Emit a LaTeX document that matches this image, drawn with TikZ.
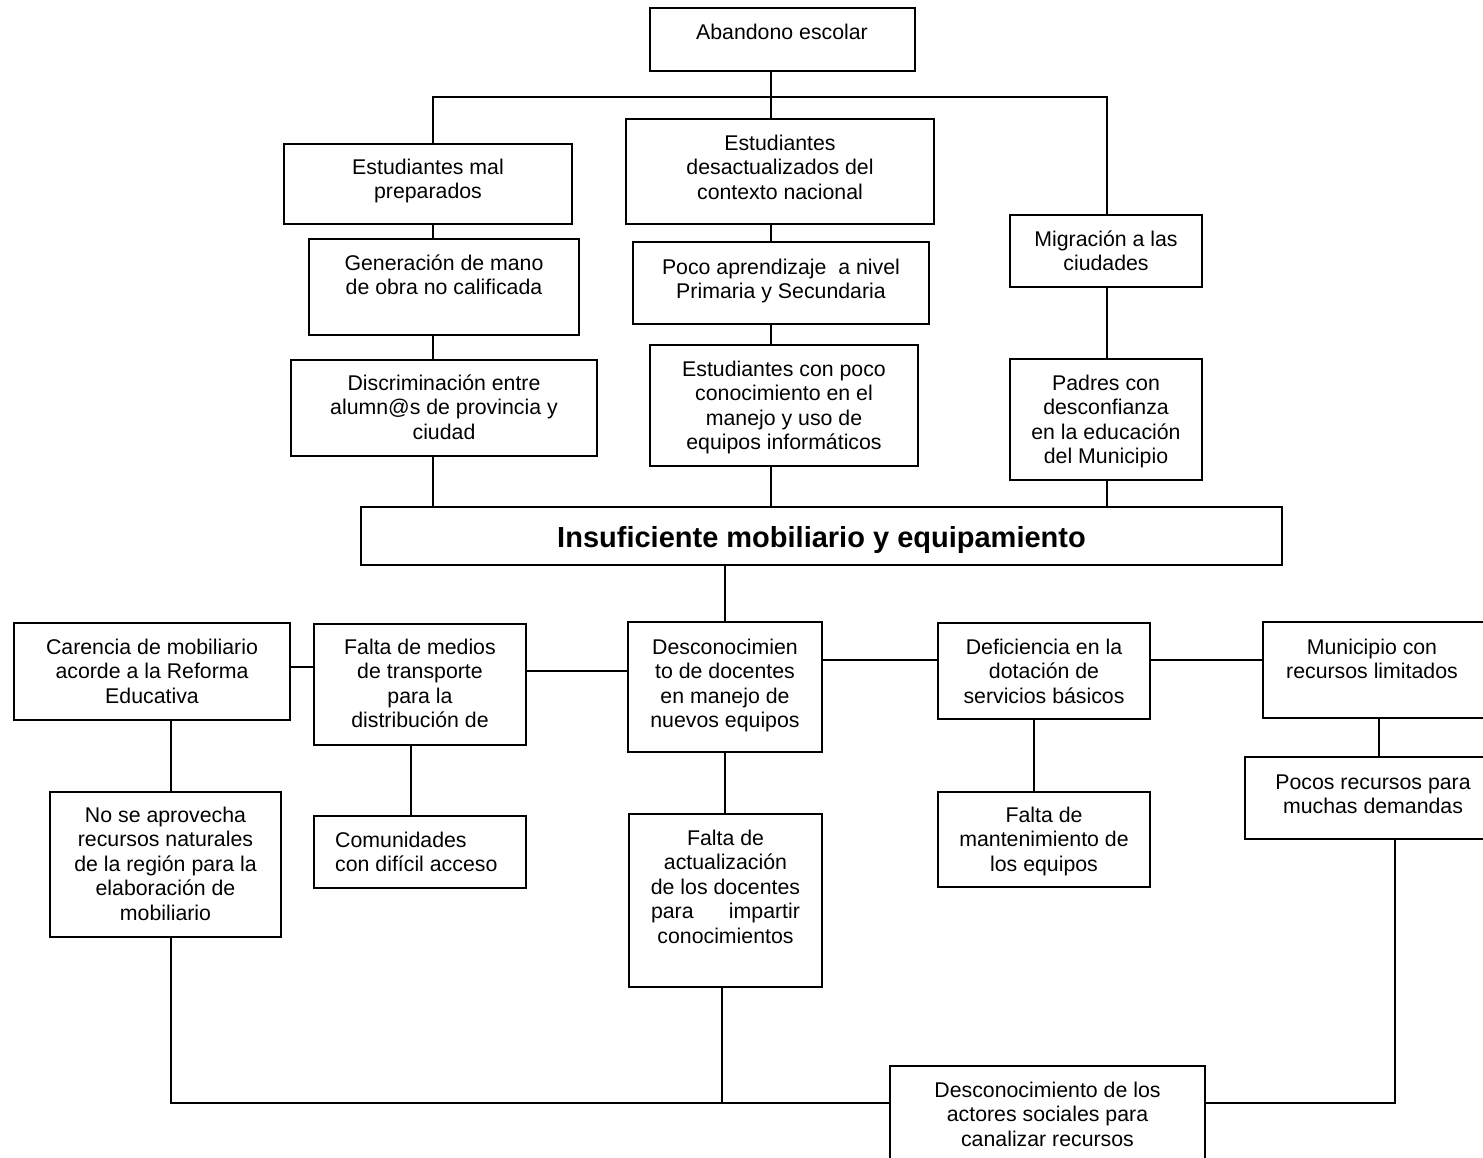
\documentclass[tikz,border=0pt]{standalone}
\usepackage{fontspec}
\setmainfont{Liberation Sans}
\newcommand\mkbox[8]{%
  \node[bxs, minimum width=#4pt-#2pt, minimum height=#5pt-#3pt] (#1) at ({(#2+#4)/2},{(#3+#5)/2}) {};
  \node[txt, anchor=north] (#1-t) at (#6,{#7-10}) {\strut #8};
}
\begin{document}
\begin{tikzpicture}[x=1pt,y=-1pt,
  bxs/.style={draw, line width=1.6pt, inner sep=0pt, outer sep=0pt, rectangle},
  txt/.style={inner sep=0pt, align=center, font=\fontsize{21.3}{24.5}\selectfont},
  conn/.style={line width=1.6pt},
  thinconn/.style={line width=1.1pt}]
\fill[white] (0,0) rectangle (1483,1158);
\useasboundingbox (0,0) rectangle (1483,1158);

% top half
\mkbox{ab}{650}{8}{915}{71}{782}{32}{Abandono escolar}
\mkbox{emp}{284}{144}{572}{224}{428}{167}{Estudiantes mal\\preparados}
\mkbox{des}{626}{119}{934}{224}{780}{143}{Estudiantes\\desactualizados del\\contexto nacional}
\mkbox{mig}{1010}{215}{1202}{287}{1106}{239}{Migración a las\\ciudades}
\mkbox{gen}{309}{239}{579}{335}{444}{263}{Generación de mano\\de obra no calificada}
\mkbox{poc}{633}{242}{929}{324}{781}{267}{Poco aprendizaje\ \ a nivel\\Primaria y Secundaria}
\mkbox{dis}{291}{360}{597}{456}{444}{383}{Discriminación entre\\alumn@s de provincia y\\ciudad}
\mkbox{ecp}{650}{345}{918}{466}{784}{369}{Estudiantes con poco\\conocimiento en el\\manejo y uso de\\equipos informáticos}
\mkbox{pad}{1010}{359}{1202}{480}{1106}{383}{Padres con\\desconfianza\\en la educación\\del Municipio}

% central problem
\node[bxs, minimum width=921pt, minimum height=58pt] (ins) at (821.5,536) {};
\node[inner sep=0pt, anchor=north, font=\fontsize{29}{33}\selectfont\bfseries] (ins-t) at (821.5,{537-12.7}) {\strut Insuficiente mobiliario y equipamiento};

% lower half
\mkbox{car}{14}{623}{290}{720}{152}{647}{Carencia de mobiliario\\acorde a la Reforma\\Educativa}
\mkbox{fmt}{314}{624}{526}{745}{420}{647}{Falta de medios\\de transporte\\para la\\distribución de}
\mkbox{dcd}{628}{622}{822}{752}{725}{647}{Desconocimien\\to de docentes\\en manejo de\\nuevos equipos}
\mkbox{def}{938}{623}{1150}{719}{1044}{647}{Deficiencia en la\\dotación de\\servicios básicos}
\mkbox{mun}{1263}{622}{1490}{718}{1372}{647}{Municipio con\\recursos limitados}
\mkbox{poc2}{1245}{757}{1490}{839}{1373}{782}{Pocos recursos para\\muchas demandas}
\mkbox{fma}{938}{792}{1150}{887}{1044}{815}{Falta de\\mantenimiento de\\los equipos}
\mkbox{fac}{629}{814}{822}{987}{725.5}{838}{Falta de\\actualización\\de los docentes\\\makebox[149pt]{para\hfill impartir}\\conocimientos}
\node[bxs, minimum width=212pt, minimum height=72pt] (com) at (420,852) {};
\node[txt, anchor=north west, align=left] (com-t) at (335,{840-10}) {\strut Comunidades\\con difícil acceso};
\mkbox{nsa}{50}{792}{281}{937}{165.5}{815}{No se aprovecha\\recursos naturales\\de la región para la\\elaboración de\\mobiliario}
\mkbox{dso}{890}{1066}{1205}{1175}{1047.5}{1090}{Desconocimiento de los\\actores sociales para\\canalizar recursos}

% helper coordinates
\coordinate (cL) at (433,0);
\coordinate (cC) at (771,0);
\coordinate (cR) at (1107,0);
\coordinate (busT) at (0,97);
\coordinate (h1) at (0,667);
\coordinate (h2) at (0,671);
\coordinate (h3) at (0,660);
\coordinate (v1) at (171,0);
\coordinate (v2) at (411,0);
\coordinate (v3) at (1034,0);
\coordinate (v4) at (1379,0);
\coordinate (v5) at (722,0);
\coordinate (v6) at (1395,0);
\coordinate (busB) at (0,1103);

% upper connectors
\draw[conn] (ab.south -| cC) -- (busT -| cC);
\draw[conn] (emp.north -| cL) |- (busT -| cR) -- (mig.north -| cR);
\draw[conn] (des.north -| cC) -- (busT -| cC);
\draw[conn] (emp.south -| cL) -- (gen.north -| cL);
\draw[conn] (gen.south -| cL) -- (dis.north -| cL);
\draw[conn] (dis.south -| cL) -- (ins.north -| cL);
\draw[conn] (des.south -| cC) -- (poc.north -| cC);
\draw[conn] (poc.south -| cC) -- (ecp.north -| cC);
\draw[conn] (ecp.south -| cC) -- (ins.north -| cC);
\draw[conn] (mig.south -| cR) -- (pad.north -| cR);
\draw[conn] (pad.south -| cR) -- (ins.north -| cR);

% lower connectors
\draw[conn] (ins.south -| dcd.north) -- (dcd.north);
\draw[conn] (car.east |- h1) -- (fmt.west |- h1);
\draw[conn] (fmt.east |- h2) -- (dcd.west |- h2);
\draw[conn] (dcd.east |- h3) -- (def.west |- h3);
\draw[conn] (def.east |- h3) -- (mun.west |- h3);
\draw[conn] (car.south -| v1) -- (nsa.north -| v1);
\draw[conn] (fmt.south -| v2) -- (com.north -| v2);
\draw[conn] (dcd.south) -- (fac.north -| dcd.south);
\draw[conn] (def.south -| v3) -- (fma.north -| v3);
\draw[conn] (mun.south -| v4) -- (poc2.north -| v4);
\draw[conn] (nsa.south -| v1) |- (dso.west |- busB);
\draw[thinconn] (fac.south -| v5) -- (v5 |- busB);
\draw[conn] (poc2.south -| v6) |- (dso.east |- busB);
\end{tikzpicture}
\end{document}
